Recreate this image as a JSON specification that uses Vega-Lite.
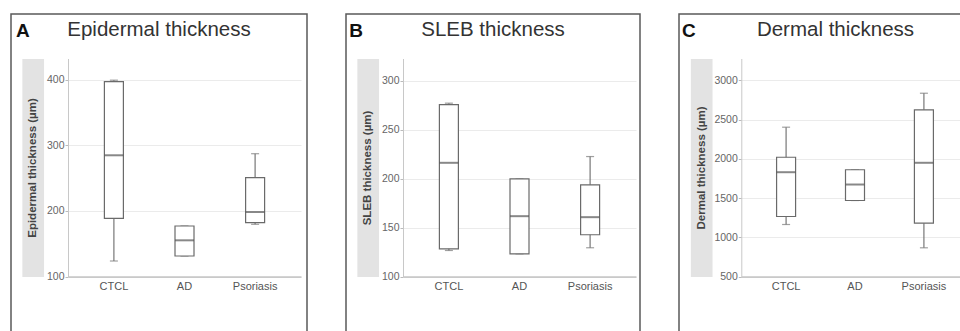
{
  "$schema": "https://vega.github.io/schema/vega-lite/v6.json",
  "background": "white",
  "padding": {"left": 10, "top": 13, "right": 0, "bottom": 0},
  "spacing": 37,
  "config": {
    "font": "Liberation Sans",
    "view": {"stroke": "#5a5a5a", "strokeWidth": 1.5, "fill": "white"},
    "concat": {"spacing": 37}
  },
  "hconcat": [
    {
      "width": 296,
      "height": 330,
      "data": {"values": [
        {"group": "CTCL", "min": 123.6, "q1": 188.6, "median": 284.6, "q3": 396.7, "max": 399},
        {"group": "AD", "min": 131.2, "q1": 131.2, "median": 155.1, "q3": 176.9, "max": 176.9},
        {"group": "Psoriasis", "min": 179.5, "q1": 181.9, "median": 198.2, "q3": 250.5, "max": 287}
      ]},
      "title": {"text": "Epidermal thickness", "anchor": "middle", "frame": "group", "offset": -42, "fontSize": 20.5, "fontWeight": "normal", "color": "#333", "baseline": "alphabetic"},
      "resolve": {"axis": {"y": "independent"}},
      "layer": [
        {
          "mark": {"type": "rule", "color": "#777", "strokeWidth": 1.2},
          "encoding": {
            "x": {"field": "group", "type": "nominal", "sort": ["CTCL", "AD", "Psoriasis"], "scale": {"range": [57, 290], "paddingInner": 0.5, "paddingOuter": 0.4},
                  "axis": {"orient": "bottom", "offset": -67.5, "title": null, "ticks": false, "labelFontSize": 11, "labelColor": "#555", "labelPadding": 4, "domainColor": "#a8a8a8", "labelAngle": 0, "grid": false, "zindex": 0}},
            "y": {"field": "min", "type": "quantitative", "scale": {"domain": [100, 432], "range": [262.5, 44.5], "nice": false, "zero": false},
                  "axis": {"orient": "left", "offset": -21.7, "domainWidth": 21.7, "domainColor": "#e3e3e3", "ticks": false, "labels": false, "grid": false, "title": "A", "titleAngle": 0, "titleX": -17.2, "titleY": 22.5, "titleAlign": "left", "titleBaseline": "alphabetic", "titleFontSize": 19, "titleFontWeight": "bold", "titleColor": "#111", "zindex": 0}},
            "y2": {"field": "max"}
          }
        },
        {
          "mark": {"type": "tick", "color": "#777", "thickness": 1.2, "size": 8},
          "encoding": {
            "x": {"field": "group", "type": "nominal", "sort": ["CTCL", "AD", "Psoriasis"]},
            "y": {"field": "min", "type": "quantitative", "axis": null}
          }
        },
        {
          "mark": {"type": "tick", "color": "#777", "thickness": 1.2, "size": 8},
          "encoding": {
            "x": {"field": "group", "type": "nominal", "sort": ["CTCL", "AD", "Psoriasis"]},
            "y": {"field": "max", "type": "quantitative", "axis": null}
          }
        },
        {
          "mark": {"type": "bar", "fill": "white", "stroke": "#6a6a6a", "strokeWidth": 1.2, "width": 19},
          "encoding": {
            "x": {"field": "group", "type": "nominal", "sort": ["CTCL", "AD", "Psoriasis"]},
            "y": {"field": "q1", "type": "quantitative",
                  "axis": {"orient": "left", "offset": -57, "values": [100, 200, 300, 400], "format": "d", "title": "Epidermal thickness (µm)", "titleFontSize": 11.5, "titleFontWeight": "bold", "titleColor": "#444", "titleX": -35.3, "titleY": 153.5, "titleAngle": 270, "titleAlign": "center", "titleBaseline": "middle", "labelFontSize": 10.5, "labelColor": "#666", "labelPadding": 1, "tickSize": 3, "tickColor": "#bbb", "domainColor": "#c8c8c8", "grid": true, "gridColor": "#ebebeb", "zindex": 0}},
            "y2": {"field": "q3"}
          }
        },
        {
          "mark": {"type": "tick", "color": "#555", "thickness": 2, "size": 19},
          "encoding": {
            "x": {"field": "group", "type": "nominal", "sort": ["CTCL", "AD", "Psoriasis"]},
            "y": {"field": "median", "type": "quantitative", "axis": null}
          }
        }
      ]
    },
    {
      "width": 294,
      "height": 330,
      "data": {"values": [
        {"group": "CTCL", "min": 126.6, "q1": 128.3, "median": 216.3, "q3": 275.9, "max": 277.3},
        {"group": "AD", "min": 123.2, "q1": 123.2, "median": 161.7, "q3": 199.9, "max": 199.9},
        {"group": "Psoriasis", "min": 129.4, "q1": 142.7, "median": 160.7, "q3": 193.8, "max": 222.7}
      ]},
      "title": {"text": "SLEB thickness", "anchor": "middle", "frame": "group", "offset": -42, "fontSize": 20.5, "fontWeight": "normal", "color": "#333", "baseline": "alphabetic"},
      "resolve": {"axis": {"y": "independent"}},
      "layer": [
        {
          "mark": {"type": "rule", "color": "#777", "strokeWidth": 1.2},
          "encoding": {
            "x": {"field": "group", "type": "nominal", "sort": ["CTCL", "AD", "Psoriasis"], "scale": {"range": [57, 290], "paddingInner": 0.5, "paddingOuter": 0.4},
                  "axis": {"orient": "bottom", "offset": -67.5, "title": null, "ticks": false, "labelFontSize": 11, "labelColor": "#555", "labelPadding": 4, "domainColor": "#a8a8a8", "labelAngle": 0, "grid": false, "zindex": 0}},
            "y": {"field": "min", "type": "quantitative", "scale": {"domain": [100, 323], "range": [262.5, 44.5], "nice": false, "zero": false},
                  "axis": {"orient": "left", "offset": -21.7, "domainWidth": 21.7, "domainColor": "#e3e3e3", "ticks": false, "labels": false, "grid": false, "title": "B", "titleAngle": 0, "titleX": -19, "titleY": 22.5, "titleAlign": "left", "titleBaseline": "alphabetic", "titleFontSize": 19, "titleFontWeight": "bold", "titleColor": "#111", "zindex": 0}},
            "y2": {"field": "max"}
          }
        },
        {
          "mark": {"type": "tick", "color": "#777", "thickness": 1.2, "size": 8},
          "encoding": {
            "x": {"field": "group", "type": "nominal", "sort": ["CTCL", "AD", "Psoriasis"]},
            "y": {"field": "min", "type": "quantitative", "axis": null}
          }
        },
        {
          "mark": {"type": "tick", "color": "#777", "thickness": 1.2, "size": 8},
          "encoding": {
            "x": {"field": "group", "type": "nominal", "sort": ["CTCL", "AD", "Psoriasis"]},
            "y": {"field": "max", "type": "quantitative", "axis": null}
          }
        },
        {
          "mark": {"type": "bar", "fill": "white", "stroke": "#6a6a6a", "strokeWidth": 1.2, "width": 19},
          "encoding": {
            "x": {"field": "group", "type": "nominal", "sort": ["CTCL", "AD", "Psoriasis"]},
            "y": {"field": "q1", "type": "quantitative",
                  "axis": {"orient": "left", "offset": -57, "values": [100, 150, 200, 250, 300], "format": "d", "title": "SLEB thickness (µm)", "titleFontSize": 11.5, "titleFontWeight": "bold", "titleColor": "#444", "titleX": -35.3, "titleY": 153.5, "titleAngle": 270, "titleAlign": "center", "titleBaseline": "middle", "labelFontSize": 10.5, "labelColor": "#666", "labelPadding": 1, "tickSize": 3, "tickColor": "#bbb", "domainColor": "#c8c8c8", "grid": true, "gridColor": "#ebebeb", "zindex": 0}},
            "y2": {"field": "q3"}
          }
        },
        {
          "mark": {"type": "tick", "color": "#555", "thickness": 2, "size": 19},
          "encoding": {
            "x": {"field": "group", "type": "nominal", "sort": ["CTCL", "AD", "Psoriasis"]},
            "y": {"field": "median", "type": "quantitative", "axis": null}
          }
        }
      ]
    },
    {
      "width": 313,
      "height": 330,
      "data": {"values": [
        {"group": "CTCL", "min": 1163, "q1": 1265, "median": 1830, "q3": 2021, "max": 2404},
        {"group": "AD", "min": 1469, "q1": 1469, "median": 1673, "q3": 1861, "max": 1861},
        {"group": "Psoriasis", "min": 866, "q1": 1180, "median": 1950, "q3": 2626, "max": 2837}
      ]},
      "title": {"text": "Dermal thickness", "anchor": "middle", "frame": "group", "offset": -42, "fontSize": 20.5, "fontWeight": "normal", "color": "#333", "baseline": "alphabetic"},
      "resolve": {"axis": {"y": "independent"}},
      "layer": [
        {
          "mark": {"type": "rule", "color": "#777", "strokeWidth": 1.2},
          "encoding": {
            "x": {"field": "group", "type": "nominal", "sort": ["CTCL", "AD", "Psoriasis"], "scale": {"range": [62.3, 289.7], "paddingInner": 0.5, "paddingOuter": 0.4},
                  "axis": {"orient": "bottom", "offset": -67.5, "title": null, "ticks": false, "labelFontSize": 11, "labelColor": "#555", "labelPadding": 4, "domainColor": "#a8a8a8", "labelAngle": 0, "grid": false, "zindex": 0}},
            "y": {"field": "min", "type": "quantitative", "scale": {"domain": [500, 3280], "range": [262.5, 44.5], "nice": false, "zero": false},
                  "axis": {"orient": "left", "offset": -22.2, "domainWidth": 21.7, "domainColor": "#e3e3e3", "ticks": false, "labels": false, "grid": false, "title": "C", "titleAngle": 0, "titleX": -19.7, "titleY": 22.5, "titleAlign": "left", "titleBaseline": "alphabetic", "titleFontSize": 19, "titleFontWeight": "bold", "titleColor": "#111", "zindex": 0}},
            "y2": {"field": "max"}
          }
        },
        {
          "mark": {"type": "tick", "color": "#777", "thickness": 1.2, "size": 8},
          "encoding": {
            "x": {"field": "group", "type": "nominal", "sort": ["CTCL", "AD", "Psoriasis"]},
            "y": {"field": "min", "type": "quantitative", "axis": null}
          }
        },
        {
          "mark": {"type": "tick", "color": "#777", "thickness": 1.2, "size": 8},
          "encoding": {
            "x": {"field": "group", "type": "nominal", "sort": ["CTCL", "AD", "Psoriasis"]},
            "y": {"field": "max", "type": "quantitative", "axis": null}
          }
        },
        {
          "mark": {"type": "bar", "fill": "white", "stroke": "#6a6a6a", "strokeWidth": 1.2, "width": 19},
          "encoding": {
            "x": {"field": "group", "type": "nominal", "sort": ["CTCL", "AD", "Psoriasis"]},
            "y": {"field": "q1", "type": "quantitative",
                  "axis": {"orient": "left", "offset": -62.3, "values": [500, 1000, 1500, 2000, 2500, 3000], "format": "d", "title": "Dermal thickness (µm)", "titleFontSize": 11.5, "titleFontWeight": "bold", "titleColor": "#444", "titleX": -40.1, "titleY": 153.5, "titleAngle": 270, "titleAlign": "center", "titleBaseline": "middle", "labelFontSize": 10.5, "labelColor": "#666", "labelPadding": 1, "tickSize": 3, "tickColor": "#bbb", "domainColor": "#c8c8c8", "grid": true, "gridColor": "#ebebeb", "zindex": 0}},
            "y2": {"field": "q3"}
          }
        },
        {
          "mark": {"type": "tick", "color": "#555", "thickness": 2, "size": 19},
          "encoding": {
            "x": {"field": "group", "type": "nominal", "sort": ["CTCL", "AD", "Psoriasis"]},
            "y": {"field": "median", "type": "quantitative", "axis": null}
          }
        }
      ]
    }
  ]
}
